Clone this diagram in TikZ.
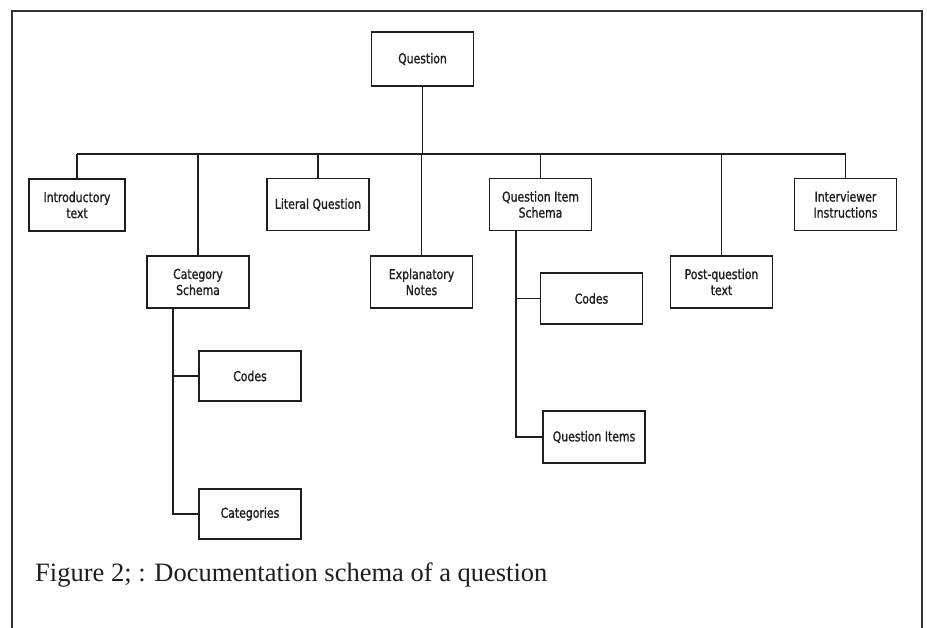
\documentclass[tikz,border=0pt]{standalone}
\usepackage{fontspec}
\setmainfont{Liberation Serif}
\newfontfamily\boxfont[FakeStretch=0.8,FakeBold=1.2]{DejaVu Sans}
\definecolor{ink}{HTML}{1E1E1E}
\definecolor{framegray}{HTML}{333333}
\begin{document}
\begin{tikzpicture}[x=1pt,y=-1pt,
  item/.style={draw=ink,line width=1.5pt,minimum width=102pt,minimum height=52pt,
    inner sep=2pt,align=center,font=\boxfont\fontsize{13.6}{16}\selectfont,text=ink},
  link/.style={draw=ink,line width=1.4pt}]
\useasboundingbox (0,0) rectangle (927,627);
% page frame, open at the bottom
\draw[framegray,line width=2pt] (12,630) -- (12,11) -- (922,11) -- (922,630);

% root
\node[item,minimum height=54pt] (q) at (422.5,59) {Question};

% first level
\node[item,minimum width=96pt] (intro) at (77,205) {Introductory\\text};
\node[item] (cs) at (198,282) {Category\\Schema};
\node[item] (lit) at (318,204.5) {Literal Question};
\node[item] (expl) at (421.5,282) {Explanatory\\Notes};
\node[item] (qis) at (540.5,204.5) {Question Item\\Schema};
\node[item] (post) at (721.5,282) {Post-question\\text};
\node[item] (inter) at (845.5,204.5) {Interviewer\\Instructions};

% second level
\node[item,minimum height=50pt] (csc) at (250,376) {Codes};
\node[item,minimum height=50pt] (cat) at (250,514) {Categories};
\node[item,minimum height=51pt] (qisc) at (591.5,298.5) {Codes};
\node[item] (qit) at (594,437) {Question Items};

% bus under the root
\coordinate (bus) at (0,154);
\draw[link] (q.south) -- (q.south |- bus);
\draw[link] (intro.north |- bus) -- (inter.north |- bus);
\foreach \n in {intro,cs,lit,expl,qis,post,inter}
  \draw[link] (\n.north |- bus) -- (\n.north);

% schema branches
\coordinate (csstem) at ([xshift=-25pt]cs.south);
\draw[link] (csstem) |- (csc.west);
\draw[link] (csstem) |- (cat.west);
\coordinate (qisstem) at ([xshift=-24.5pt]qis.south);
\draw[link] (qisstem) |- (qisc.west);
\draw[link] (qisstem) |- (qit.west);

% caption
\node[anchor=base west,inner sep=0pt,text=ink,font=\fontsize{26.5}{30}\selectfont] (cap) at (35,581)
  {Figure 2; : Documentation schema of a question};
\end{tikzpicture}
\end{document}
